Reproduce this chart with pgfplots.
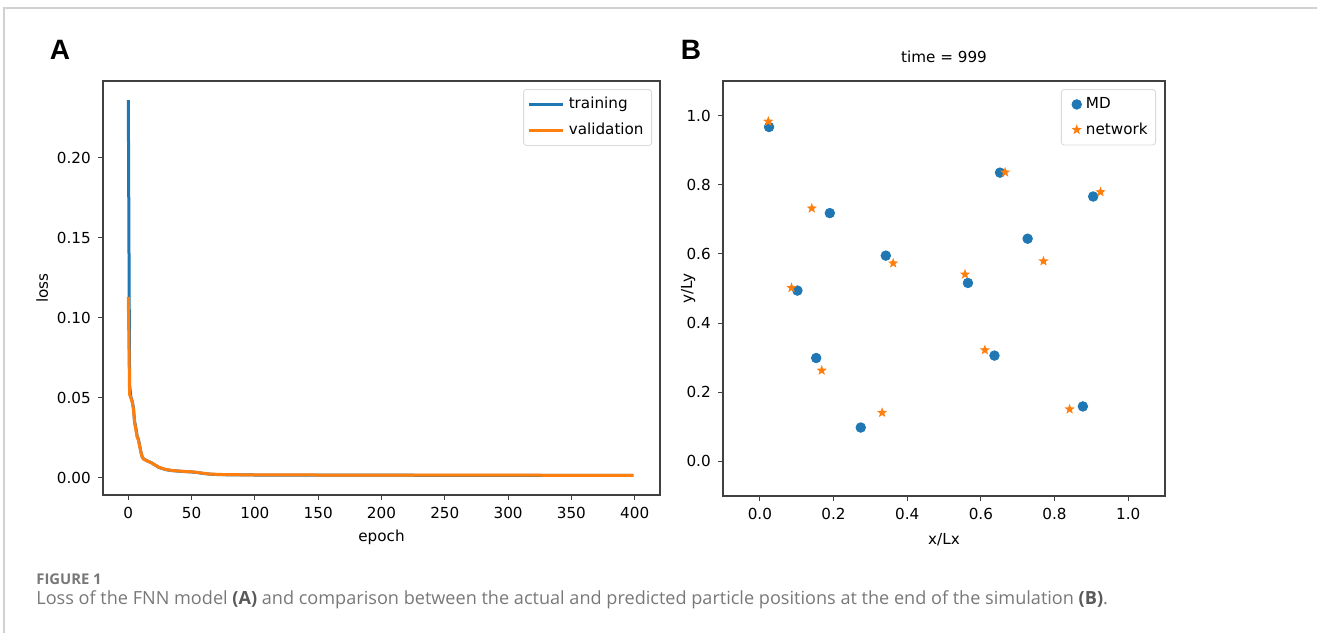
\documentclass[border=0pt]{standalone}
\usepackage{pgfplots}
\pgfplotsset{compat=1.18}
\usepackage{fontspec}
\setmainfont{DejaVu Sans}
\newfontfamily\capfont{Open Sans}
\newfontfamily\panelfont{Liberation Sans}
\definecolor{mplblue}{HTML}{1F77B4}
\definecolor{mplorange}{HTML}{FF7F0E}
\definecolor{capgray}{HTML}{787878}

% filled five-point star, like matplotlib's '*'
\pgfdeclareplotmark{fstar}{%
  \pgfpathmoveto{\pgfpointpolar{90}{\pgfplotmarksize}}%
  \pgfpathlineto{\pgfpointpolar{126}{0.42\pgfplotmarksize}}%
  \pgfpathlineto{\pgfpointpolar{162}{\pgfplotmarksize}}%
  \pgfpathlineto{\pgfpointpolar{198}{0.42\pgfplotmarksize}}%
  \pgfpathlineto{\pgfpointpolar{234}{\pgfplotmarksize}}%
  \pgfpathlineto{\pgfpointpolar{270}{0.42\pgfplotmarksize}}%
  \pgfpathlineto{\pgfpointpolar{306}{\pgfplotmarksize}}%
  \pgfpathlineto{\pgfpointpolar{342}{0.42\pgfplotmarksize}}%
  \pgfpathlineto{\pgfpointpolar{18}{\pgfplotmarksize}}%
  \pgfpathlineto{\pgfpointpolar{54}{0.42\pgfplotmarksize}}%
  \pgfpathclose\pgfusepathqfill}

\pgfplotstableread{
epoch loss
0   0.236
1   0.058
2   0.0505
3   0.048
4   0.044
5   0.035
6   0.031
7   0.026
8   0.024
9   0.020
10  0.016
11  0.013
12  0.0118
15  0.0105
18  0.0095
21  0.0080
24  0.0065
27  0.0057
30  0.0050
35  0.0044
40  0.0041
45  0.0038
50  0.0036
55  0.0032
60  0.0026
65  0.0022
70  0.0020
80  0.0018
100 0.0017
150 0.0016
200 0.0016
250 0.0015
300 0.0015
350 0.0014
399 0.0014
}\training

\pgfplotstableread{
epoch loss
0   0.113
1   0.052
2   0.0500
3   0.0475
4   0.043
5   0.034
6   0.030
7   0.0255
8   0.0235
9   0.0195
10  0.0158
11  0.0128
12  0.0117
15  0.0104
18  0.0094
21  0.0080
24  0.0066
27  0.0058
30  0.0051
35  0.0045
40  0.0042
45  0.0039
50  0.0037
55  0.0033
60  0.0027
65  0.0023
70  0.0021
80  0.0019
100 0.0018
150 0.0017
200 0.0017
250 0.0016
300 0.0016
350 0.0015
399 0.0015
}\validation

\pgfplotstableread{
x     y
0.025 0.967
0.190 0.718
0.342 0.595
0.565 0.516
0.652 0.835
0.727 0.644
0.905 0.766
0.102 0.494
0.153 0.299
0.274 0.098
0.637 0.306
0.877 0.159
}\md

\pgfplotstableread{
x     y
0.023 0.983
0.141 0.732
0.362 0.573
0.557 0.541
0.666 0.836
0.770 0.579
0.925 0.779
0.086 0.502
0.168 0.263
0.332 0.141
0.611 0.322
0.841 0.151
}\network

\pgfplotsset{
  mplstyle/.style={
    scale only axis,
    axis line style={black!75, line width=0.6pt},
    tick pos=left,
    tick align=outside,
    major tick length=2.6pt,
    every tick/.style={black!75, line width=0.5pt},
    font=\fontsize{7.6}{9}\selectfont,
    tick label style={font=\fontsize{7.6}{9}\selectfont},
    /pgf/number format/assume math mode=true,
    legend cell align=left,
    legend style={draw=black!15, rounded corners=1.5pt, fill=white,
      font=\fontsize{7.6}{9}\selectfont, inner sep=2pt,
      row sep=1.5pt, anchor=north east},
  },
  onemark legend/.style={legend image code/.code={%
    \path[draw=none, fill=none] (0cm,0cm) -- (0.2cm,0cm);
    \draw[##1] plot coordinates {(0.2cm,0cm)};}},
}

\begin{document}
\begin{tikzpicture}
\useasboundingbox (0,0) rectangle (658.5pt,316.5pt);
\draw[black!18, line width=0.7pt] (2pt,0) -- (2pt,312.5pt) -- (658.5pt,312.5pt);

\node[font=\panelfont\bfseries\fontsize{14}{16}\selectfont] at (30pt,291.5pt) {A};
\node[font=\panelfont\bfseries\fontsize{14}{16}\selectfont] at (345.5pt,291.5pt) {B};

\begin{axis}[mplstyle,
  at={(51.5pt,69pt)}, anchor=south west,
  width=278.5pt, height=207pt,
  xmin=-20, xmax=420, ymin=-0.0108, ymax=0.248,
  xtick={0,50,...,400},
  ytick={0,0.05,0.10,0.15,0.20},
  yticklabel style={/pgf/number format/.cd, fixed, fixed zerofill, precision=2},
  xlabel={epoch}, ylabel={loss},
  x label style={at={(axis description cs:0.5,0)}, anchor=north, yshift=-14pt},
  y label style={at={(axis description cs:-0.109,0.5)}, anchor=center},
  legend style={at={(axis description cs:1,1)}, xshift=-4pt, yshift=-4pt},
]
\addplot[mplblue, line width=1.5pt, line join=round] table[x=epoch, y=loss] {\training};
\addlegendentry{training}
\addplot[mplorange, line width=1.5pt, line join=round] table[x=epoch, y=loss] {\validation};
\addlegendentry{validation}
\end{axis}

\begin{axis}[mplstyle,
  at={(361.5pt,68.5pt)}, anchor=south west,
  width=221pt, height=207.5pt,
  xmin=-0.1, xmax=1.1, ymin=-0.1, ymax=1.1,
  xtick={0,0.2,...,1.0}, ytick={0,0.2,...,1.0},
  xticklabel style={/pgf/number format/.cd, fixed, fixed zerofill, precision=1},
  yticklabel style={/pgf/number format/.cd, fixed, fixed zerofill, precision=1},
  xlabel={x/Lx}, ylabel={y/Ly},
  title={time = 999},
  title style={font=\fontsize{7.6}{9}\selectfont, yshift=-0.5pt},
  x label style={at={(axis description cs:0.5,0)}, anchor=north, yshift=-15pt},
  y label style={at={(axis description cs:-0.079,0.5)}, anchor=center},
  legend style={at={(axis description cs:1,1)}, xshift=-4.5pt, yshift=-4pt},
]
\addplot[only marks, mark=*, mark size=2.4pt, mplblue, mark options={draw=none, fill=mplblue},
  onemark legend]
  table[x=x, y=y] {\md};
\addlegendentry{MD}
\addplot[only marks, mark=fstar, mark size=2.7pt, mplorange, mark options={fill=mplorange},
  onemark legend]
  table[x=x, y=y] {\network};
\addlegendentry{network}
\end{axis}

\node[anchor=base west, inner sep=0pt, font=\capfont\bfseries\fontsize{7.4}{9}\selectfont, text=capgray] at (18pt,24.5pt) {FIGURE 1};
\node[anchor=base west, inner sep=0pt, font=\capfont\fontsize{9.05}{11}\selectfont, text=capgray] at (18pt,14.5pt)
  {Loss of the FNN model {\bfseries\color{black!65}(A)} and comparison between the actual and predicted particle positions at the end of the simulation {\bfseries\color{black!65}(B)}.};
\end{tikzpicture}
\end{document}
